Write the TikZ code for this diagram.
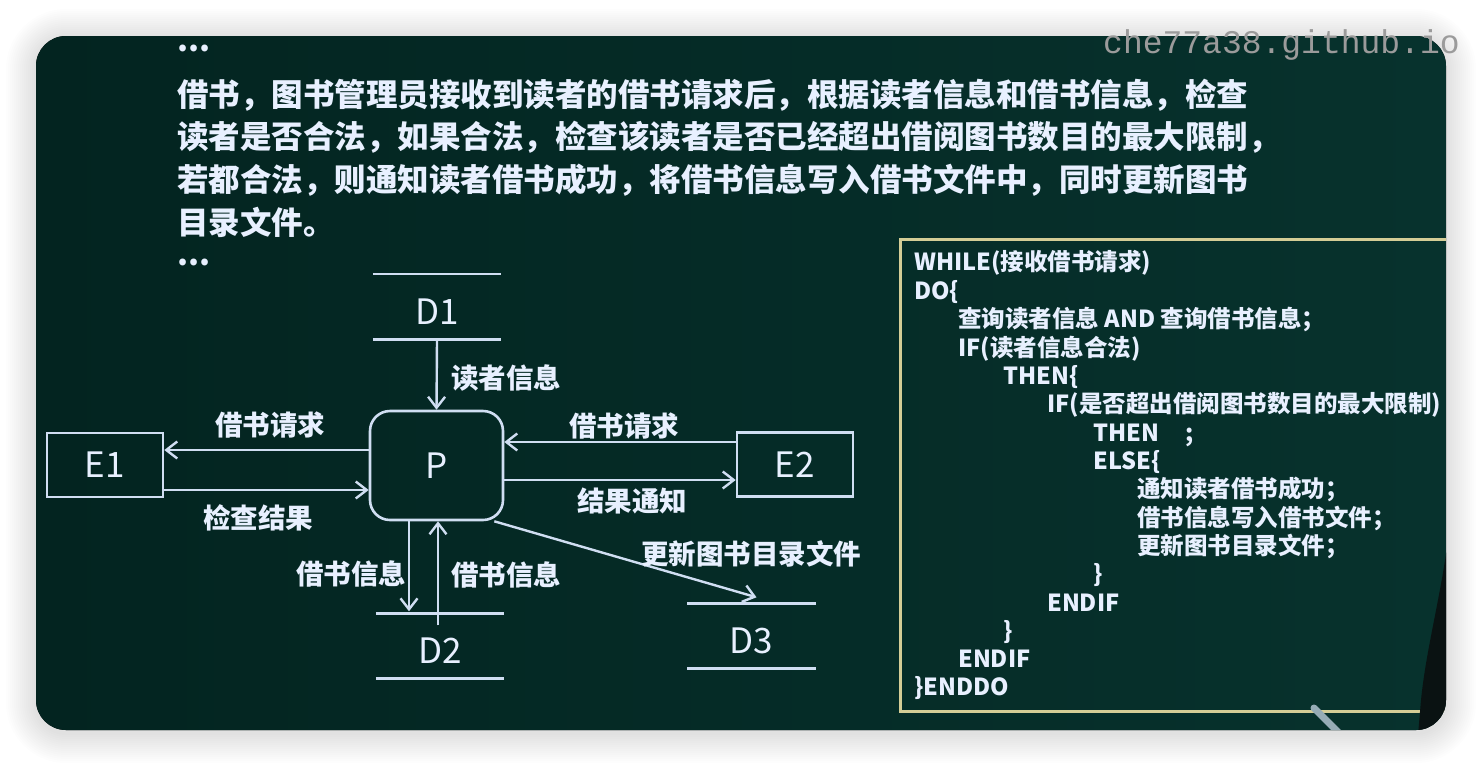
\documentclass[tikz,border=0pt]{standalone}
\usepackage{fontspec}
\setmainfont{Noto Sans CJK SC}
\newfontfamily\cjk{Noto Sans CJK SC}
\newfontfamily\wmfont{Liberation Mono}
\usetikzlibrary{arrows.meta}

\definecolor{panelL}{RGB}{3,36,32}
\definecolor{panelR}{RGB}{7,50,45}
\definecolor{ink}{RGB}{232,240,255}
\definecolor{wire}{RGB}{208,222,242}
\definecolor{frame}{RGB}{212,205,150}
\definecolor{mark}{RGB}{155,155,155}
\definecolor{figure}{RGB}{10,18,18}
\definecolor{stick}{RGB}{150,172,182}

\tikzset{
  para/.style={anchor=base west, text=ink, inner sep=0pt,
    font=\cjk\bfseries\fontsize{31.5}{36}\selectfont},
  code/.style={anchor=base west, text=ink, inner sep=0pt,
    font=\cjk\bfseries\fontsize{23.5}{28}\selectfont},
  lab/.style={anchor=base, text=ink, inner sep=0pt,
    font=\cjk\bfseries\fontsize{27.5}{32}\selectfont},
  entity/.style={draw=wire, line width=2.6pt, minimum width=116pt,
    minimum height=64pt, inner sep=0pt, text=ink,
    font=\cjk\fontsize{35}{40}\selectfont},
  proc/.style={entity, rounded corners=20pt, minimum width=133pt,
    minimum height=109pt},
  store/.style={minimum width=128pt, minimum height=65pt, inner sep=0pt,
    text height=35pt, text depth=0pt, text=ink,
    font=\cjk\fontsize{35}{40}\selectfont},
  storeline/.style={draw=wire, line width=2.6pt},
  flow/.style={draw=wire, line width=2.4pt,
    -{Straight Barb[length=11pt,width=17pt]}},
}

\begin{document}
\begin{tikzpicture}[x=1pt,y=-1pt]
  \useasboundingbox[fill=white] (0,0) rectangle (1482,766);

  % soft drop shadow: stacked faint rounded rectangles
  \foreach \r in {2,4,...,30}{
    \fill[black, opacity=0.009, rounded corners={30pt+\r pt}]
      (36-\r,36-\r+3) rectangle (1446+\r,730+\r+3);
  }

  % board
  \fill[left color=panelL, right color=panelR, rounded corners=30pt]
       (36,36) rectangle (1446,730);

  % pseudo-code frame, person at the right edge and pointer
  \begin{scope}
    \clip[rounded corners=30pt] (36,36) rectangle (1446,730);
    \draw[frame, line width=3pt] (900,239) rectangle (1470,711);
    \fill[figure] (1448,540) .. controls (1440,600) and (1426,650) .. (1421,700)
                  -- (1418,735) -- (1450,735) -- cycle;
    \draw[stick, line width=7pt, line cap=round] (1314,708) -- (1340,734);
  \end{scope}

  % description text
  \node[para] (dots1) at (177,51) {...};
  \node[para] (p1) at (177,106.5) {借书，图书管理员接收到读者的借书请求后，根据读者信息和借书信息，检查};
  \node[para] (p2) at (177,148) {读者是否合法，如果合法，检查该读者是否已经超出借阅图书数目的最大限制，};
  \node[para] (p3) at (177,191) {若都合法，则通知读者借书成功，将借书信息写入借书文件中，同时更新图书};
  \node[para] (p4) at (177,234) {目录文件。};
  \node[para] (dots2) at (177,265) {...};

  % data flow diagram
  \node[proc]   (P)  at (436.5,465.5) {P};
  \node[entity] (E1) at (105,465) {E1};
  \node[entity] (E2) at (795,464.5) {E2};
  \node[store]  (D1) at (437,306.5) {D1};
  \node[store]  (D2) at (440,646) {D2};
  \node[store]  (D3) at (751.5,636) {D3};

  \foreach \s in {D1,D2,D3}{
    \draw[storeline] (\s.north west) -- (\s.north east);
    \draw[storeline] (\s.south west) -- (\s.south east);
  }

  \coordinate (rowA) at (0,450);
  \coordinate (rowB) at (0,490);
  \coordinate (rowC) at (0,442);
  \coordinate (rowD) at (0,480);
  \coordinate (colA) at (409,0);
  \coordinate (colB) at (438,0);

  \draw[flow] (D1.south) -- (P.north);
  \draw[flow] (P.west |- rowA) -- (E1.east |- rowA);
  \draw[flow] (E1.east |- rowB) -- (P.west |- rowB);
  \draw[flow] (E2.west |- rowC) -- (P.east |- rowC);
  \draw[flow] (P.east |- rowD) -- (E2.west |- rowD);
  \draw[flow] (P.south -| colA) -- ([yshift=2pt]D2.north -| colA);
  \draw[flow] ([yshift=-12pt]D2.north -| colB) -- (P.south -| colB);
  \draw[flow] ([xshift=-10pt]P.south east) -- ([xshift=5pt,yshift=6pt]D3.north);

  \node[lab] (l1) at (506,388.5) {读者信息};
  \node[lab] (l2) at (270,435.5) {借书请求};
  \node[lab] (l3) at (258,528.5) {检查结果};
  \node[lab] (l4) at (624,436.5) {借书请求};
  \node[lab] (l5) at (632,511.5) {结果通知};
  \node[lab] (l6) at (351,584.5) {借书信息};
  \node[lab] (l7) at (506,585) {借书信息};
  \node[lab] (l8) at (751,564.5) {更新图书目录文件};

  % pseudo-code
  \node[code] (c1)  at (914,270)   {WHILE(接收借书请求)};
  \node[code] (c2)  at (914,299)   {DO\{};
  \node[code] (c3)  at (958,327.5) {查询读者信息 AND 查询借书信息；};
  \node[code] (c4)  at (958,356)   {IF(读者信息合法)};
  \node[code] (c5)  at (1003,384)  {THEN\{};
  \node[code] (c6)  at (1047,412.5){IF(是否超出借阅图书数目的最大限制)};
  \node[code] (c7)  at (1093,441)  {THEN\hspace{26pt};};
  \node[code] (c8)  at (1093,469)  {ELSE\{};
  \node[code] (c9)  at (1137,497.5){通知读者借书成功；};
  \node[code] (c10) at (1137,526)  {借书信息写入借书文件；};
  \node[code] (c11) at (1137,554)  {更新图书目录文件；};
  \node[code] (c12) at (1093,582)  {\}};
  \node[code] (c13) at (1047,611)  {ENDIF};
  \node[code] (c14) at (1003,639)  {\}};
  \node[code] (c15) at (958,667)   {ENDIF};
  \node[code] (c16) at (914,695)   {\}ENDDO};

  % site mark
  \node[anchor=base west, inner sep=0pt, text=mark,
        font=\wmfont\fontsize{33}{36}\selectfont] (wm) at (1103,53) {che77a38.github.io};
\end{tikzpicture}
\end{document}
